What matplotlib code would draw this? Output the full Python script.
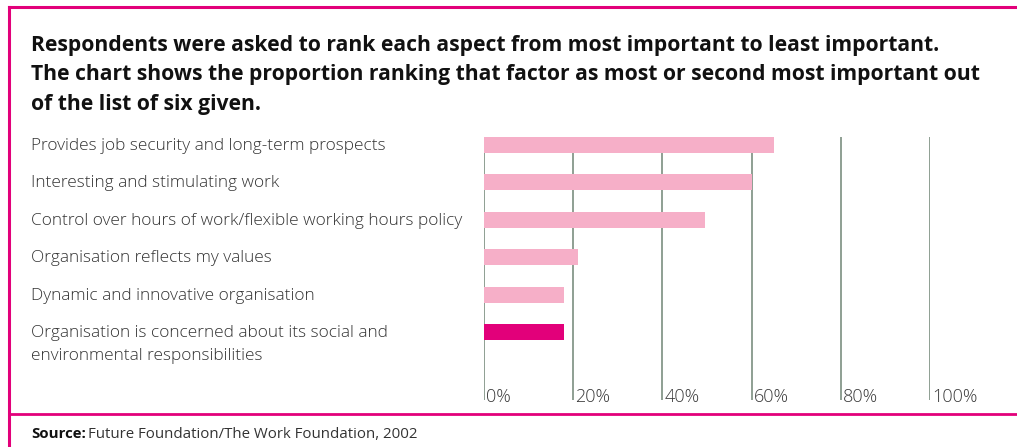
import matplotlib
matplotlib.use("Agg")
import matplotlib.pyplot as plt
import matplotlib.transforms as mtransforms
from matplotlib.lines import Line2D

plt.rcParams['font.family'] = ['Open Sans', 'DejaVu Sans']

factors = [
    "Provides job security and long-term prospects",
    "Interesting and stimulating work",
    "Control over hours of work/flexible working hours policy",
    "Organisation reflects my values",
    "Dynamic and innovative organisation",
    "Organisation is concerned about its social and\nenvironmental responsibilities",
]
share = [65, 60, 49.5, 21, 18, 18]
highlight = [False, False, False, False, False, True]
ticks = [0, 20, 40, 60, 80, 100]
tick_labels = ["0%", "20%", "40%", "60%", "80%", "100%"]

title = ("Respondents were asked to rank each aspect from most important to least important.\n"
         "The chart shows the proportion ranking that factor as most or second most important out\n"
         "of the list of six given.")

W, H = 1017, 447
pink = "#e2007a"
light_pink = "#f6afc8"
grid_col = "#86978a"
text_col = "#333333"

fig = plt.figure(figsize=(W / 100, H / 100), dpi=100)

def fx(px):
    return px / W

def fy(py):
    return 1 - py / H

# plot area: 0% at x=484, 100% at x=930, from y=137 down to y=400
ax = fig.add_axes([fx(484), fy(400), fx(930) - fx(484), fy(137) - fy(400)])
ax.set_xlim(0, 100)
ax.set_ylim(5 + 1.82, -0.214)
ax.axis("off")

for t in ticks:
    ax.axvline(t, color=grid_col, lw=1.3, zorder=1)

ypos = list(range(len(factors)))
colors = [pink if h else light_pink for h in highlight]
ax.barh(ypos, share, height=0.43, color=colors, zorder=2)

# tick labels to the right of each grid line at the bottom
for t, lab in zip(ticks, tick_labels):
    ax.annotate(lab, xy=(t, 0), xycoords=("data", "axes fraction"),
                xytext=(1.5, -4), textcoords="offset points",
                ha="left", va="bottom", fontsize=13, color="#3a3a3a",
                fontweight="light", annotation_clip=False)

# category labels on the left
lbl_tr = mtransforms.blended_transform_factory(fig.transFigure, ax.transData)
for y, lab in zip(ypos, factors):
    ax.annotate(lab, xy=(fx(31), y), xycoords=lbl_tr,
                xytext=(0, 5), textcoords="offset points",
                ha="left", va="top", fontsize=12.4, color=text_col,
                fontweight="light", linespacing=1.62, annotation_clip=False)

fig.text(fx(31), fy(35), title, ha="left", va="top", fontsize=15.25,
         fontweight="bold", color="#111111", linespacing=1.53)

# source line
src = fig.text(fx(31), fy(434), "Source:", ha="left", va="center",
               fontsize=10.8, fontweight="bold", color="#111111")
fig.canvas.draw()
bb = src.get_window_extent()
fig.text(bb.x1 / W + 0.002, fy(434), "Future Foundation/The Work Foundation, 2002",
         ha="left", va="center", fontsize=10.8, color=text_col)

# frame lines
fig.add_artist(Line2D([fx(9), 1], [fy(7), fy(7)], color=pink, lw=2.2,
                      transform=fig.transFigure))
fig.add_artist(Line2D([fx(9), fx(9)], [fy(7), 0], color=pink, lw=2.2,
                      transform=fig.transFigure))
fig.add_artist(Line2D([fx(9), 1], [fy(414), fy(414)], color=pink, lw=2.0,
                      transform=fig.transFigure))

fig.savefig("out.png", dpi=100, facecolor="white")
